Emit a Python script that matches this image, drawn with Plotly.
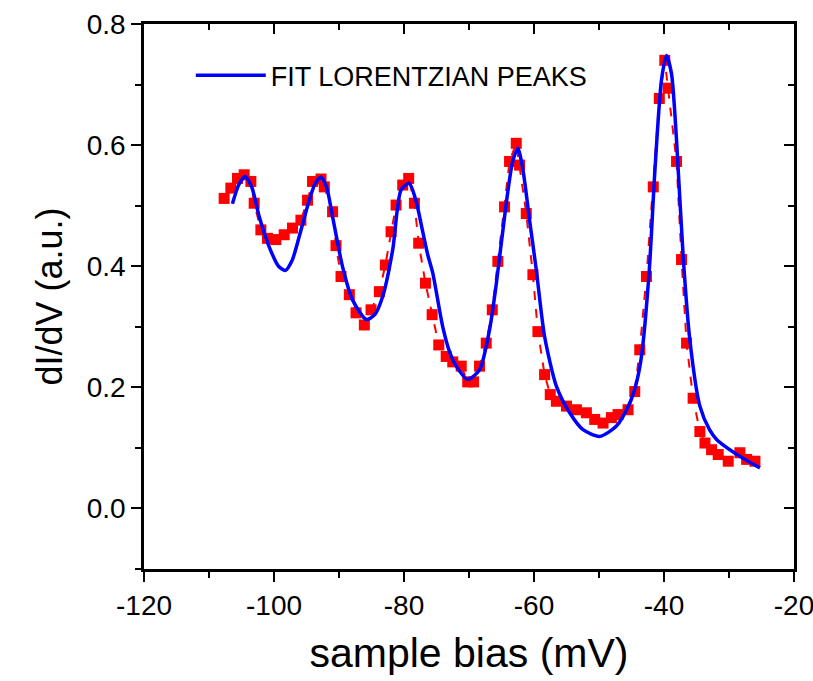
import plotly.graph_objects as go

# measured dI/dV data (red squares)
bias_mv = [-107.67, -106.64, -105.62, -104.59, -103.56, -103.05, -102.02, -101.0, -99.71,
           -98.43, -97.15, -95.86, -94.84, -94.07, -92.77, -92.26, -90.99, -90.46, -89.69,
           -88.41, -87.38, -86.1, -85.07, -83.79, -82.87, -81.99, -81.22, -80.2, -79.28,
           -78.4, -77.74, -76.7, -75.67, -74.65, -73.51, -72.5, -71.2, -70.2, -69.3,
           -68.38, -67.35, -66.42, -65.56, -64.53, -63.76, -62.73, -62.22, -61.19, -60.17,
           -59.4, -58.37, -57.5, -56.56, -55.0, -53.48, -51.94, -50.66, -49.38, -48.09,
           -47.07, -45.53, -44.5, -43.73, -42.7, -41.65, -40.72, -39.88, -39.37, -38.07,
           -37.3, -36.53, -35.52, -34.48, -33.7, -32.68, -31.66, -30.12, -28.32, -27.29,
           -26.01]
didv = [0.512, 0.529, 0.545, 0.551, 0.540, 0.504, 0.460, 0.446, 0.444,
        0.452, 0.463, 0.476, 0.509, 0.540, 0.544, 0.531, 0.490, 0.434, 0.383,
        0.353, 0.323, 0.303, 0.328, 0.358, 0.402, 0.457, 0.501, 0.534, 0.545,
        0.504, 0.438, 0.372, 0.320, 0.270, 0.251, 0.242, 0.235, 0.209, 0.209,
        0.235, 0.273, 0.328, 0.408, 0.498, 0.573, 0.603, 0.567, 0.487, 0.386,
        0.292, 0.221, 0.188, 0.177, 0.169, 0.163, 0.158, 0.147, 0.141, 0.150,
        0.155, 0.163, 0.193, 0.262, 0.383, 0.531, 0.677, 0.740, 0.694, 0.573,
        0.411, 0.273, 0.182, 0.127, 0.108, 0.097, 0.089, 0.078, 0.092, 0.081,
        0.078]

# Lorentzian fit curve (blue)
fit_mv = [-106.4, -105.4, -104.44, -103.4, -102.28, -100.74, -99.3, -98.27, -97.2, -96.12,
          -94.58, -93.6, -92.77, -91.9, -90.99, -89.45, -87.9, -85.8, -84.5, -83.28,
          -81.74, -80.45, -79.2, -78.13, -77.12, -76.35, -75.58, -74.04, -72.9, -71.97,
          -70.2, -68.38, -66.84, -65.81, -64.27, -63.3, -62.48, -61.7, -60.68, -59.65,
          -58.37, -56.56, -54.51, -52.46, -49.89, -47.32, -45.27, -44.3, -43.47, -42.3,
          -41.42, -40.39, -39.62, -38.85, -38.07, -37.05, -36.02, -34.48, -33.0, -31.91,
          -28.32, -25.24]
fit_val = [0.503, 0.535, 0.548, 0.530, 0.482, 0.432, 0.400, 0.393, 0.410, 0.449,
           0.509, 0.538, 0.547, 0.530, 0.482, 0.399, 0.344, 0.312, 0.320, 0.350,
           0.427, 0.526, 0.537, 0.507, 0.457, 0.419, 0.389, 0.300, 0.256, 0.235,
           0.213, 0.229, 0.295, 0.370, 0.504, 0.572, 0.595, 0.559, 0.476, 0.394,
           0.284, 0.202, 0.158, 0.130, 0.119, 0.136, 0.174, 0.205, 0.251, 0.388,
           0.554, 0.707, 0.748, 0.718, 0.608, 0.416, 0.278, 0.169, 0.130, 0.114,
           0.086, 0.067]

x_range = [-120, -20]
y_range = [-0.1, 0.8]
x_ticks = [-120, -100, -80, -60, -40, -20]
y_ticks = [0.0, 0.2, 0.4, 0.6, 0.8]

FONT = "Liberation Sans, Arial, sans-serif"

fig = go.Figure()
fig.add_trace(go.Scatter(
    x=bias_mv, y=didv, mode="lines+markers", showlegend=False,
    line=dict(color="#ff0000", width=2, dash="dash"),
    marker=dict(symbol="square", size=11, color="#ff0000"),
))
fig.add_trace(go.Scatter(
    x=fit_mv, y=fit_val, mode="lines", name="FIT LORENTZIAN PEAKS",
    line=dict(color="#0000ff", width=3.5, shape="spline", smoothing=0.7),
))
# invisible trace to anchor mirror axes (top / right, inward ticks)
fig.add_trace(go.Scatter(x=x_range, y=y_range, xaxis="x2", yaxis="y2",
                         mode="markers", marker=dict(opacity=0), showlegend=False,
                         hoverinfo="skip"))

axis_common = dict(showline=True, linecolor="black", linewidth=2.5, showgrid=False,
                   zeroline=False, tickcolor="black", tickwidth=2, ticklen=10,
                   automargin=False)

fig.update_layout(
    width=813, height=681,
    margin=dict(l=144, r=19, t=24, b=112),
    paper_bgcolor="white", plot_bgcolor="white",
    font=dict(family=FONT, color="black", size=28),
    xaxis=dict(range=x_range, tickmode="array", tickvals=x_ticks,
               ticktext=[str(v) for v in x_ticks], ticks="outside",
               ticklabeloverflow="allow",
               minor=dict(ticks="outside", dtick=10, ticklen=6, tickwidth=2, tickcolor="black"),
               title=dict(text="sample bias (mV)", font=dict(size=41), standoff=18),
               tickfont=dict(size=28), **axis_common),
    yaxis=dict(range=y_range, tickmode="array", tickvals=y_ticks,
               ticktext=[f"{v:.1f}" for v in y_ticks], ticks="outside",
               ticklabeloverflow="allow",
               minor=dict(ticks="outside", dtick=0.1, ticklen=6, tickwidth=2, tickcolor="black"),
               title=dict(text="dI/dV (a.u.)", font=dict(size=36), standoff=14),
               tickfont=dict(size=28), **axis_common),
    xaxis2=dict(range=x_range, overlaying="x", side="top", anchor="y2",
                tickmode="array", tickvals=x_ticks, ticks="inside", showticklabels=False,
                minor=dict(ticks="inside", dtick=10, ticklen=6, tickwidth=2, tickcolor="black"),
                **axis_common),
    yaxis2=dict(range=y_range, overlaying="y", side="right", anchor="x2",
                tickmode="array", tickvals=y_ticks, ticks="inside", showticklabels=False,
                minor=dict(ticks="inside", dtick=0.1, ticklen=6, tickwidth=2, tickcolor="black"),
                **axis_common),
    legend=dict(x=0.072, y=0.905, xanchor="left", yanchor="middle",
                bgcolor="rgba(0,0,0,0)", font=dict(size=27), itemwidth=70),
)

fig.write_html("out.html")
